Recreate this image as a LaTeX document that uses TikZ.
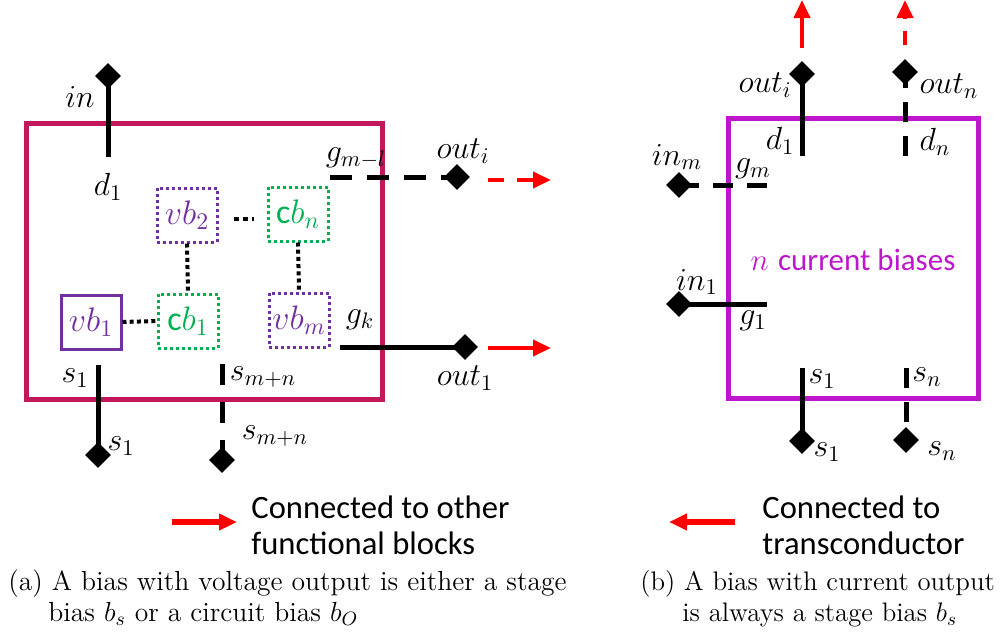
\RequirePackage{fix-cm}
\documentclass[tikz,border=0pt]{standalone}
\usepackage{fontspec}
\setsansfont{Carlito}
\usetikzlibrary{shapes.geometric,arrows.meta}
\definecolor{lbox}{RGB}{194,24,91}
\definecolor{rbox}{RGB}{190,22,204}
\definecolor{vpurple}{RGB}{112,48,160}
\definecolor{cgreen}{RGB}{0,176,80}
\definecolor{ared}{RGB}{255,0,0}
\tikzset{
  pinnode/.style={diamond, fill=black, inner sep=0pt, minimum size=13pt},
  lbl/.style={font=\fontsize{16}{19}\selectfont, inner sep=0pt},
  wire/.style={line width=2.5pt},
  dwire/.style={line width=2.5pt, dash pattern=on 10pt off 7pt},
  redarrow/.style={ared, line width=2pt, -{Triangle[length=9pt,width=8pt]}},
  dotline/.style={line width=2pt, dash pattern=on 2pt off 1.6pt},
  sbox/.style={minimum width=30pt, minimum height=27pt, inner sep=0pt, font=\fontsize{17}{20}\selectfont, line width=1.5pt},
  vdbox/.style={sbox, draw=vpurple, text=vpurple, dash pattern=on 1.5pt off 1.5pt},
  cdbox/.style={sbox, draw=cgreen, text=cgreen, dash pattern=on 1.5pt off 1.5pt},
  legendtext/.style={font=\sffamily\fontsize{16.3}{18}\selectfont, align=left, anchor=west, inner sep=0pt},
  captext/.style={font=\fontsize{13.8}{16}\selectfont, anchor=base west, inner sep=0pt},
  captextb/.style={font=\fontsize{13.4}{16}\selectfont, anchor=base west, inner sep=0pt}
}
\begin{document}
\begin{tikzpicture}[x=0.5pt,y=-0.5pt]
\useasboundingbox (0,0) rectangle (1000,637);

% ---------- (a) left block ----------
\node[draw=lbox, line width=2.5pt, minimum width=178pt, minimum height=138pt, inner sep=0pt] (blockA) at (204,261) {};

% in / d1
\coordinate (dA) at (108,157);
\node[pinnode] (inA) at (108,76) {};
\draw[wire] (inA.center) -- (dA);
\node[lbl] (lin) at (80,97) {$in$};
\node[lbl] (ld1) at (108,187) {$d_1$};

% g_{m-l} / out_i
\coordinate (gml) at (330,177);
\node[pinnode] (outiA) at (457,177) {};
\draw[line width=2.5pt, dash pattern=on 11pt off 7.5pt] (gml) -- (outiA.center);
\node[lbl] (lgml) at (356,158) {$g_{m-l}$};
\node[lbl] (louti) at (463,151) {$out_i$};
\coordinate (ra1s) at (488,180);
\coordinate (ra1e) at (551,180);
\draw[redarrow, dash pattern=on 8pt off 6.5pt] (ra1s) -- (ra1e);

% inner boxes
\node[vdbox] (vb2) at (187,215) {$vb_2$};
\node[cdbox] (cbn) at (298,214) {\textsf{c}$b_n$};
\node[cdbox] (cb1) at (188,321) {\textsf{c}$b_1$};
\node[vdbox] (vbm) at (299,320) {$vb_m$};
\node[sbox, draw=vpurple, text=vpurple] (vb1) at (91,322) {$vb_1$};
\draw[dotline] (vb2.south) -- (cb1.north);
\draw[dotline] (cbn.south) -- (vbm.north);
\draw[dotline] (vb1.east) -- (cb1.west);
\coordinate (ell1) at (234,219);
\coordinate (ell2) at (254,219);
\draw[dotline, dash pattern=on 2.4pt off 2pt] (ell1) -- (ell2);

% g_k / out_1
\coordinate (gk) at (340,347);
\node[pinnode] (out1A) at (465,347) {};
\draw[wire] (gk) -- (out1A.center);
\node[lbl] (lgk) at (360,320) {$g_k$};
\node[lbl] (lout1) at (465,378) {$out_1$};
\coordinate (ra2s) at (488,348);
\coordinate (ra2e) at (551,348);
\draw[redarrow] (ra2s) -- (ra2e);

% s1
\coordinate (s1A) at (98,365);
\node[pinnode] (s1pA) at (98,455) {};
\draw[wire] (s1A) -- (s1pA.center);
\node[lbl] (ls1a) at (75,378) {$s_1$};
\node[lbl] (ls1b) at (121,446) {$s_1$};

% s_{m+n}
\coordinate (smnA) at (222,364);
\node[pinnode] (smnpA) at (222,460) {};
\draw[line width=2.5pt, dash pattern=on 10.5pt off 8.5pt] (smnA) -- (smnpA.center);
\node[lbl] (lsmna) at (263,377) {$s_{m+n}$};
\node[lbl] (lsmnb) at (275,436) {$s_{m+n}$};

% ---------- (b) right block ----------
\node[draw=rbox, line width=2.5pt, minimum width=125pt, minimum height=140pt, inner sep=0pt] (blockB) at (853,258) {};
\node[text=rbox, font=\fontsize{15.5}{19}\selectfont, inner sep=0pt] (ncb) at (853,260) {$n$ \sffamily current biases};

% out_i / d1
\coordinate (dB1) at (802,156);
\node[pinnode] (outiB) at (802,74) {};
\draw[wire] (outiB.center) -- (dB1);
\node[lbl] (loutiB) at (765,85) {$out_i$};
\node[lbl] (ld1B) at (780,141) {$d_1$};
\coordinate (rb1s) at (802,48);
\coordinate (rb1e) at (802,0);
\draw[redarrow] (rb1s) -- (rb1e);

% out_n / d_n
\coordinate (dBn) at (905,156);
\node[pinnode] (outnB) at (905,72) {};
\draw[dwire] (dBn) -- (outnB.center);
\node[lbl] (loutnB) at (949,86) {$out_n$};
\node[lbl] (ldnB) at (935,142) {$d_n$};
\coordinate (rb2s) at (905,45);
\coordinate (rb2e) at (905,0);
\draw[redarrow, dash pattern=on 7pt off 6pt] (rb2s) -- (rb2e);

% in_m / g_m
\coordinate (gmB) at (767,185);
\node[pinnode] (inmB) at (679,185) {};
\draw[dwire] (gmB) -- (inmB.center);
\node[lbl] (linm) at (677,157) {$in_m$};
\node[lbl] (lgm) at (753,169) {$g_m$};

% in_1 / g_1
\coordinate (g1B) at (767,304);
\node[pinnode] (in1B) at (679,304) {};
\draw[wire] (g1B) -- (in1B.center);
\node[lbl] (lin1) at (697,282) {$in_1$};
\node[lbl] (lg1) at (753,321) {$g_1$};

% s1
\coordinate (s1B) at (802,368);
\node[pinnode] (s1pB) at (802,441) {};
\draw[wire] (s1B) -- (s1pB.center);
\node[lbl] (ls1c) at (822,379) {$s_1$};
\node[lbl] (ls1d) at (827,452) {$s_1$};

% s_n
\coordinate (snB) at (906,368);
\node[pinnode] (snpB) at (906,440) {};
\draw[dwire] (snB) -- (snpB.center);
\node[lbl] (lsn1) at (927,377) {$s_n$};
\node[lbl] (lsn2) at (942,451) {$s_n$};

% ---------- legend ----------
\coordinate (lg1a) at (172,522);
\coordinate (lg1b) at (237,522);
\draw[redarrow, line width=2.8pt] (lg1a) -- (lg1b);
\node[legendtext] (lt1) at (251,525) {Connected to other\\functional blocks};
\coordinate (lg2a) at (735,522);
\coordinate (lg2b) at (669,522);
\draw[redarrow, line width=2.8pt] (lg2a) -- (lg2b);
\node[legendtext] (lt2) at (762,525) {Connected to\\transconductor};

% ---------- captions ----------
\node[captext] (ca1) at (8,590) {(a) A bias with voltage output is either a stage};
\node[captext] (ca2) at (48,621) {bias $b_s$ or a circuit bias $b_O$};
\node[captextb] (cb1t) at (640,590) {(b) A bias with current output};
\node[captextb] (cb2t) at (682,621) {is always a stage bias $b_s$};
\end{tikzpicture}
\end{document}
